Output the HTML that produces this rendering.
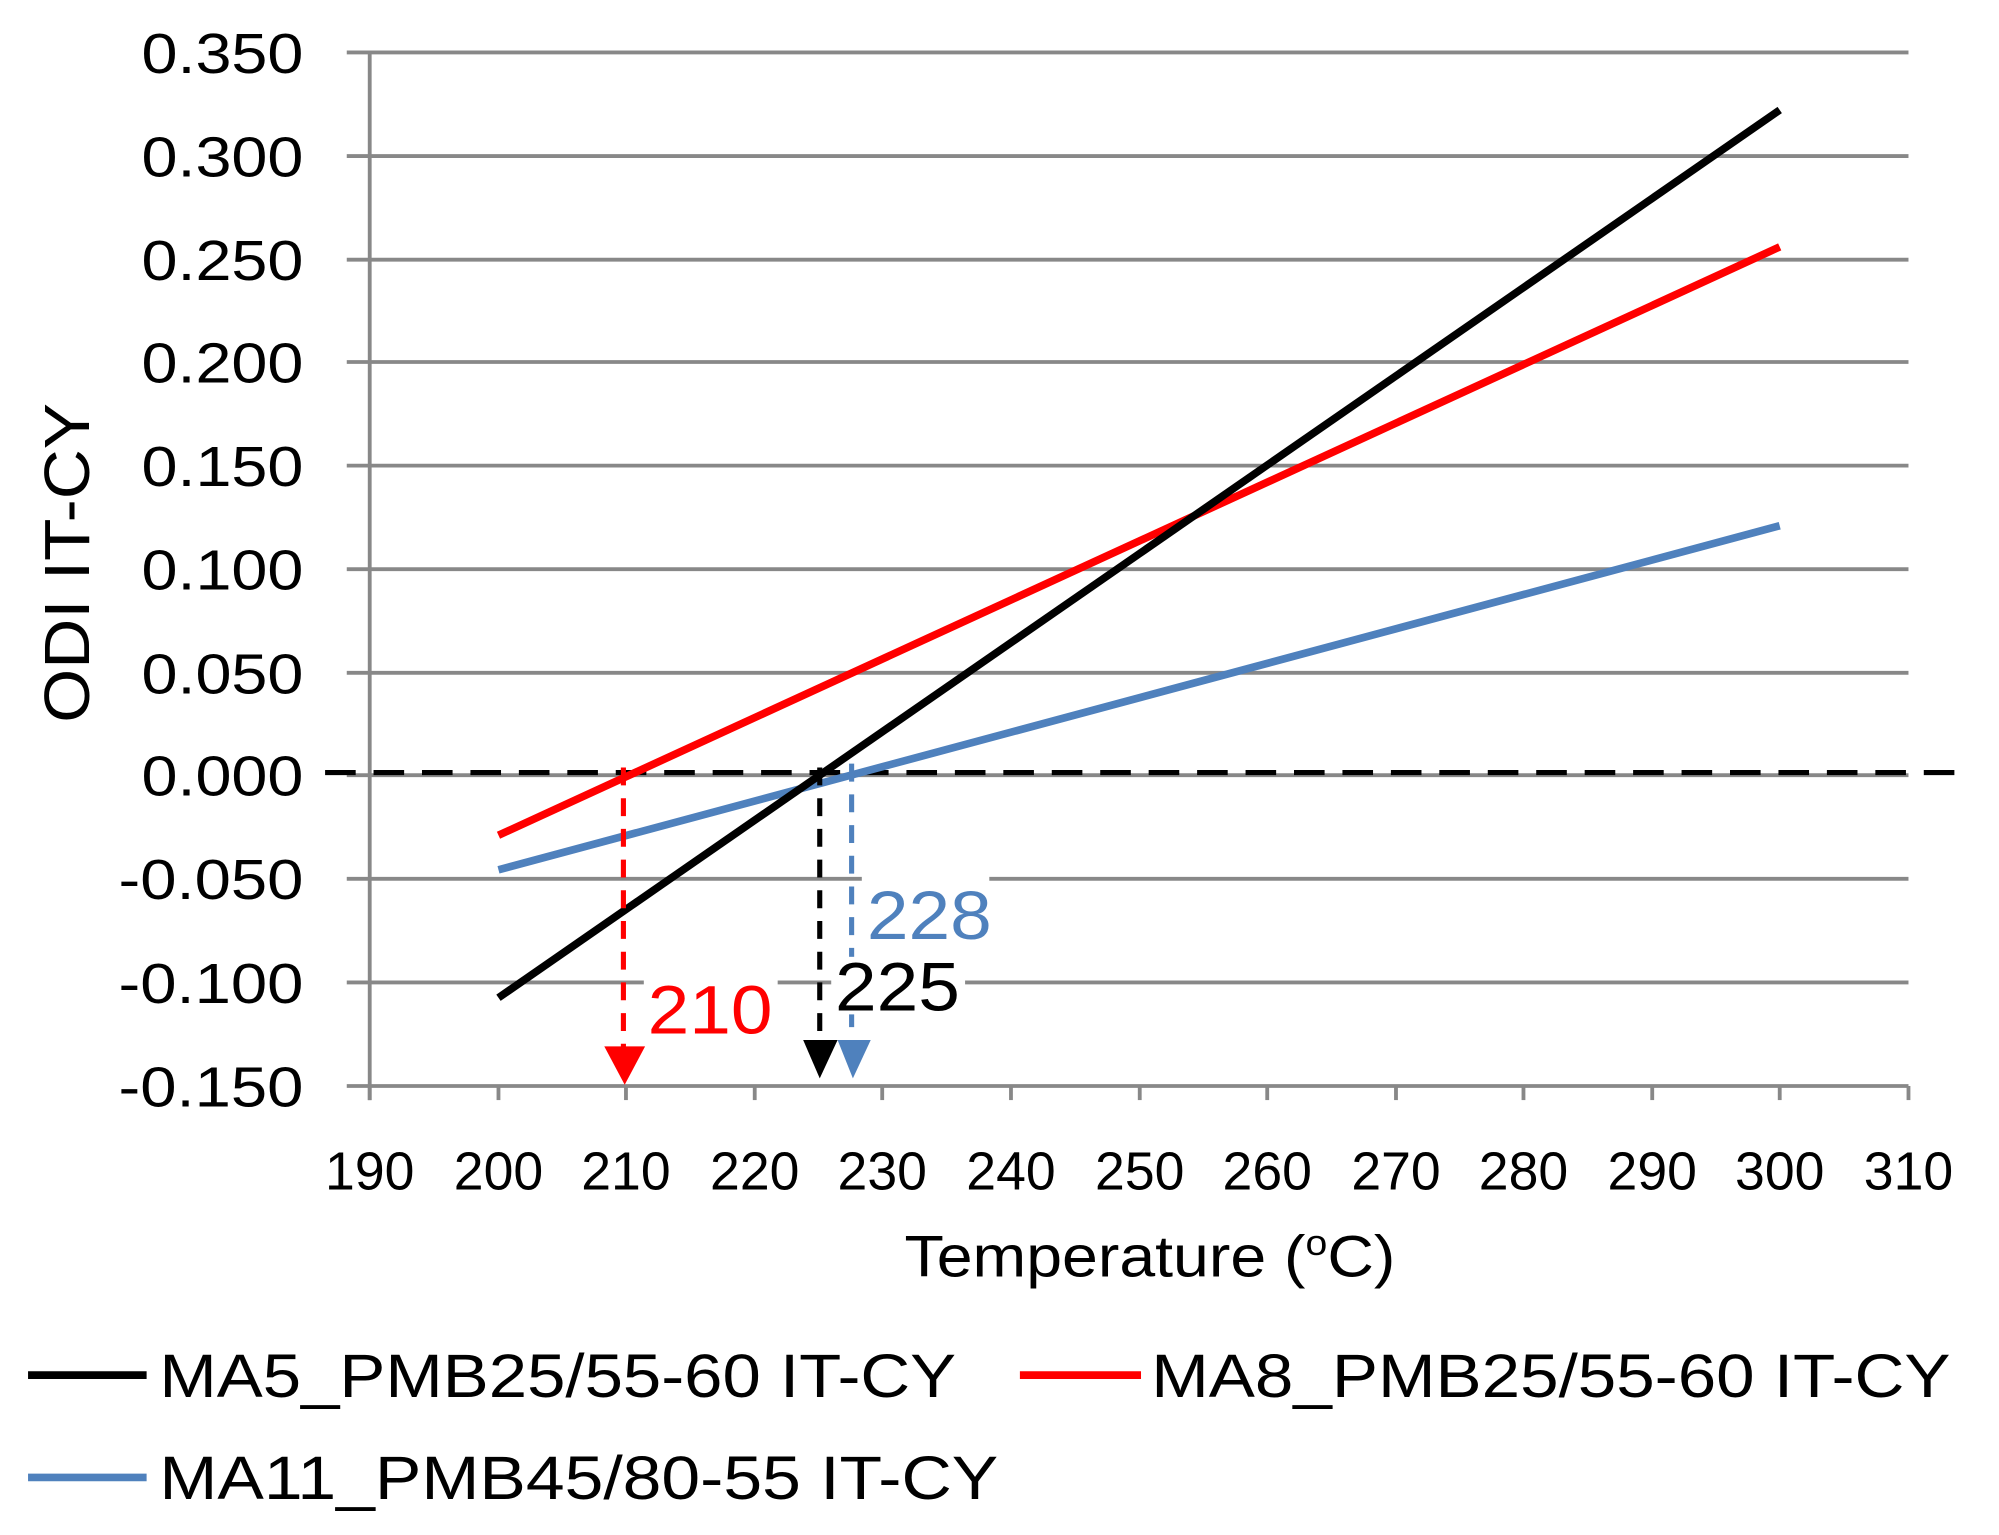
<!DOCTYPE html>
<html><head><meta charset="utf-8"><style>
html,body{margin:0;padding:0;background:#fff;}
svg{display:block;}
text{font-family:"Liberation Sans",sans-serif;}
</style></head><body>
<svg width="1999" height="1535" viewBox="0 0 1568 1200" preserveAspectRatio="none">
<g stroke="#888" stroke-width="3">
<line x1="272" y1="41" x2="1497" y2="41"/>
<line x1="272" y1="122" x2="1497" y2="122"/>
<line x1="272" y1="203" x2="1497" y2="203"/>
<line x1="272" y1="283" x2="1497" y2="283"/>
<line x1="272" y1="364" x2="1497" y2="364"/>
<line x1="272" y1="445" x2="1497" y2="445"/>
<line x1="272" y1="526" x2="1497" y2="526"/>
<line x1="272" y1="606" x2="1497" y2="606"/>
<line x1="272" y1="687" x2="1497" y2="687"/>
<line x1="272" y1="768" x2="1497" y2="768"/>
<line x1="272" y1="849" x2="1497" y2="849"/>
<line x1="290" y1="41" x2="290" y2="860"/>
<g>
<line x1="290" y1="849" x2="290" y2="860"/><line x1="391" y1="849" x2="391" y2="860"/><line x1="491" y1="849" x2="491" y2="860"/><line x1="592" y1="849" x2="592" y2="860"/><line x1="692" y1="849" x2="692" y2="860"/><line x1="793" y1="849" x2="793" y2="860"/><line x1="894" y1="849" x2="894" y2="860"/><line x1="994" y1="849" x2="994" y2="860"/><line x1="1095" y1="849" x2="1095" y2="860"/><line x1="1195" y1="849" x2="1195" y2="860"/><line x1="1296" y1="849" x2="1296" y2="860"/><line x1="1396" y1="849" x2="1396" y2="860"/><line x1="1497" y1="849" x2="1497" y2="860"/>
</g></g>
<g font-size="44" text-anchor="end" fill="#000">
<text x="238" y="57" textLength="127" lengthAdjust="spacingAndGlyphs">0.350</text><text x="238" y="138" textLength="127" lengthAdjust="spacingAndGlyphs">0.300</text><text x="238" y="219" textLength="127" lengthAdjust="spacingAndGlyphs">0.250</text><text x="238" y="299" textLength="127" lengthAdjust="spacingAndGlyphs">0.200</text><text x="238" y="380" textLength="127" lengthAdjust="spacingAndGlyphs">0.150</text><text x="238" y="461" textLength="127" lengthAdjust="spacingAndGlyphs">0.100</text><text x="238" y="542" textLength="127" lengthAdjust="spacingAndGlyphs">0.050</text><text x="238" y="622" textLength="127" lengthAdjust="spacingAndGlyphs">0.000</text><text x="238" y="703" textLength="145" lengthAdjust="spacingAndGlyphs">-0.050</text><text x="238" y="784" textLength="145" lengthAdjust="spacingAndGlyphs">-0.100</text><text x="238" y="865" textLength="145" lengthAdjust="spacingAndGlyphs">-0.150</text>
</g>
<g font-size="42" text-anchor="middle" fill="#000">
<text x="290" y="930">190</text><text x="391" y="930">200</text><text x="491" y="930">210</text><text x="592" y="930">220</text><text x="692" y="930">230</text><text x="793" y="930">240</text><text x="894" y="930">250</text><text x="994" y="930">260</text><text x="1095" y="930">270</text><text x="1195" y="930">280</text><text x="1296" y="930">290</text><text x="1396" y="930">300</text><text x="1497" y="930">310</text>
</g>
<text x="902" y="998" font-size="46" text-anchor="middle" textLength="385" lengthAdjust="spacingAndGlyphs">Temperature (<tspan font-size="28" dy="-17">o</tspan><tspan dy="17">C)</tspan></text>
<text transform="translate(70,440) rotate(-90)" font-size="50" text-anchor="middle" textLength="250" lengthAdjust="spacingAndGlyphs">ODI  IT-CY</text>
<line x1="255" y1="604" x2="1545" y2="604" stroke="#000" stroke-width="4" stroke-dasharray="24,14"/>
<line x1="391" y1="653" x2="1396" y2="193" stroke="#f00" stroke-width="6"/>
<line x1="391" y1="680" x2="1396" y2="411" stroke="#4f81bd" stroke-width="6"/>
<line x1="391" y1="780" x2="1396" y2="86" stroke="#000" stroke-width="6"/>
<line x1="489" y1="600" x2="489" y2="822" stroke="#f00" stroke-width="4" stroke-dasharray="14,10"/>
<polygon points="474,818 506,818 490,848" fill="#f00"/>
<line x1="643" y1="600" x2="643" y2="815" stroke="#000" stroke-width="4" stroke-dasharray="14,10"/>
<polygon points="630,813 657,813 643,843" fill="#000"/>
<line x1="668" y1="597" x2="668" y2="815" stroke="#4f81bd" stroke-width="4" stroke-dasharray="14,10"/>
<polygon points="657,813 683,813 669,843" fill="#4f81bd"/>
<rect x="676" y="683" width="100" height="55" fill="#fff"/>
<text x="680" y="734" font-size="54" fill="#4f81bd" textLength="98" lengthAdjust="spacingAndGlyphs">228</text>
<rect x="652" y="748" width="105" height="45" fill="#fff"/>
<text x="655" y="790" font-size="54" fill="#000" textLength="98" lengthAdjust="spacingAndGlyphs">225</text>
<rect x="505" y="762" width="105" height="50" fill="#fff"/>
<text x="508" y="808" font-size="54" fill="#f00" textLength="98" lengthAdjust="spacingAndGlyphs">210</text>
<line x1="22" y1="1075" x2="115" y2="1075" stroke="#000" stroke-width="6"/>
<text x="125" y="1092" font-size="48" textLength="625" lengthAdjust="spacingAndGlyphs">MA5_PMB25/55-60 IT-CY</text>
<line x1="800" y1="1075" x2="895" y2="1075" stroke="#f00" stroke-width="6"/>
<text x="903" y="1092" font-size="48" textLength="627" lengthAdjust="spacingAndGlyphs">MA8_PMB25/55-60 IT-CY</text>
<line x1="22" y1="1155" x2="115" y2="1155" stroke="#4f81bd" stroke-width="6"/>
<text x="125" y="1172" font-size="48" textLength="658" lengthAdjust="spacingAndGlyphs">MA11_PMB45/80-55 IT-CY</text>
</svg>
</body></html>
